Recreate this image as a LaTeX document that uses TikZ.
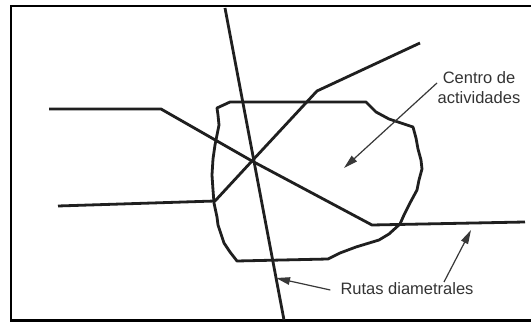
\documentclass[tikz,border=0pt]{standalone}
\usepackage{fontspec}
\setmainfont{Liberation Sans}
\usetikzlibrary{arrows.meta}
\begin{document}
\begin{tikzpicture}[x=1pt,y=-1pt,
  route/.style={line width=2.8pt, line join=round, color=black!88},
  blob/.style={line width=2.8pt, line join=round, color=black!88},
  pointer/.style={line width=1.2pt, color=black!78, -{Triangle[length=14pt,width=7.5pt]}},
  lbl/.style={font=\fontsize{16.5}{20}\selectfont, text=black!80, inner sep=0pt, align=center}]
\useasboundingbox (0,0) rectangle (531,323);
\fill[white] (0,0) rectangle (531,323);
% frame
\draw[line width=2.6pt] (531,320.5) -- (11,320.5) -- (11,6) -- (531,6);
% activity centre outline
\draw[blob] (217,108) -- (230,102) -- (366,102) -- (376,112) -- (389,119) -- (413,127)
  -- (416,138) -- (418,149) -- (421,160) -- (422,169) -- (419,180) -- (417,190) -- (410,203)
  -- (404,215) -- (400,224) -- (389,234) -- (379,240) -- (356,247) -- (340,253) -- (328,259)
  -- (237,261) -- (230,252) -- (224,243) -- (222,237) -- (218,225) -- (217,217) -- (214,203)
  -- (213,190) -- (212,175) -- (213,159) -- (215,145) -- (217,135) -- (219,125) -- (218,115) -- cycle;
% routes
\coordinate (c) at (252,161);
\coordinate (vt) at (225,8);
\coordinate (vb) at (284,320);
\draw[route] (vt) -- (vb);
\coordinate (a1) at (49,109);
\coordinate (a2) at (161,109);
\coordinate (a3) at (372,225);
\coordinate (a4) at (525,222);
\draw[route] (a1) -- (a2) -- (c) -- (a3) -- (a4);
\coordinate (b1) at (58,206);
\coordinate (b2) at (215,201);
\coordinate (b3) at (317,91);
\coordinate (b4) at (420,43);
\draw[route] (b1) -- (b2) -- (c) -- (b3) -- (b4);
% labels
\node[lbl] (centro) at (479,88) {Centro de\\actividades};
\node[lbl] (rutas) at (407,289) {Rutas diametrales};
\coordinate (pc) at (344,168);
\coordinate (pr1) at (276,278);
\coordinate (pr2) at (471,230);
\draw[pointer] (437,83) -- (pc);
\draw[pointer] (rutas.west) ++(-10,1) -- (pr1);
\draw[pointer] (444,282) -- (pr2);
\end{tikzpicture}
\end{document}
